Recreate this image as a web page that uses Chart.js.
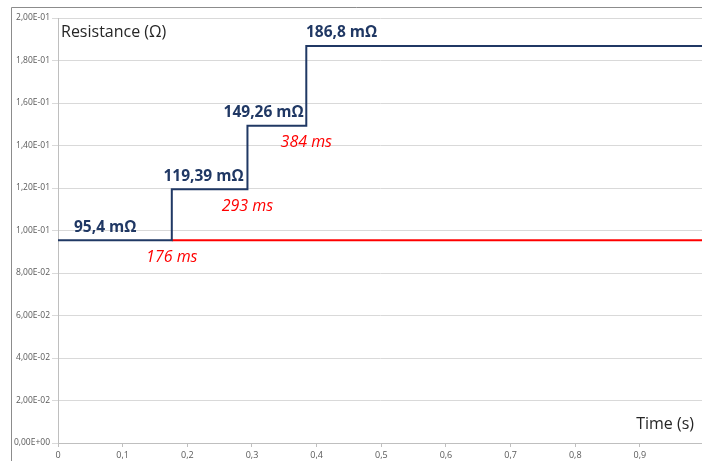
<!DOCTYPE html>
<html>
<head>
<meta charset="utf-8">
<script src="https://cdn.jsdelivr.net/npm/chart.js@4.4.1/dist/chart.umd.min.js"></script>
<style>
    html, body { margin: 0; padding: 0; background: #fff; }
    canvas { display: block; }
</style>
</head>
<body>
<canvas id="resistance-chart" width="702" height="461"></canvas>
<script>
// resistance steps: switch times (s) and levels (ohm)
const stepTimes = [0, 0.176, 0.293, 0.384];
const stepLevels = [0.0954, 0.11939, 0.14926, 0.1868];
const stepLabels = ['95,4 mΩ', '119,39 mΩ', '149,26 mΩ', '186,8 mΩ'];
const timeLabels = ['176 ms', '293 ms', '384 ms'];
const endTime = 0.996;

const yTickLabels = ['0,00E+00', '2,00E-02', '4,00E-02', '6,00E-02', '8,00E-02', '1,00E-01',
    '1,20E-01', '1,40E-01', '1,60E-01', '1,80E-01', '2,00E-01'];
const xTickLabels = ['0', '0,1', '0,2', '0,3', '0,4', '0,5', '0,6', '0,7', '0,8', '0,9'];

const navy = '#203864';
const red = '#ff0000';
const font = '"Open Sans", "DejaVu Sans", sans-serif';

// blue trace: one point per level change, drawn as a step line
const stepData = stepLevels.map((v, i) => ({ x: stepTimes[i], y: v }));
stepData.push({ x: endTime, y: stepLevels[stepLevels.length - 1] });

// red reference line: first level from the first switch to the end
const baseData = [
    { x: stepTimes[1], y: stepLevels[0] },
    { x: endTime, y: stepLevels[0] },
];

// where each level label sits (x in seconds, how it aligns there)
const labelPlace = [
    { x: 0.073, align: 'center' },
    { x: 0.287, align: 'right' },
    { x: 0.380, align: 'right' },
    { x: 0.3835, align: 'left' },
];

const annotations = {
    id: 'annotations',
    beforeDraw(chart) {
        const { ctx } = chart;
        ctx.save();
        ctx.fillStyle = '#fff';
        ctx.fillRect(0, 0, chart.width, chart.height);
        ctx.strokeStyle = '#8c8c8c';
        ctx.lineWidth = 1;
        ctx.beginPath();
        ctx.moveTo(11.5, chart.height);
        ctx.lineTo(11.5, 7.5);
        ctx.lineTo(chart.width, 7.5);
        ctx.stroke();
        ctx.restore();
    },
    afterDatasetsDraw(chart) {
        const { ctx, scales: { x, y } } = chart;
        ctx.save();
        ctx.textBaseline = 'middle';

        ctx.font = `bold 15.5px ${font}`;
        ctx.fillStyle = navy;
        stepLabels.forEach((text, i) => {
            ctx.textAlign = labelPlace[i].align;
            ctx.fillText(text, x.getPixelForValue(labelPlace[i].x), y.getPixelForValue(stepLevels[i]) - 13);
        });

        ctx.font = `italic 16px ${font}`;
        ctx.fillStyle = red;
        ctx.textAlign = 'center';
        timeLabels.forEach((text, i) => {
            ctx.fillText(text, x.getPixelForValue(stepTimes[i + 1]), y.getPixelForValue(stepLevels[i]) + 17);
        });

        ctx.font = `16px ${font}`;
        ctx.fillStyle = '#262626';
        ctx.textAlign = 'left';
        ctx.fillText('Resistance (Ω)', 61, 32);
        ctx.textAlign = 'right';
        ctx.fillText('Time (s)', 694, 424);
        ctx.restore();
    }
};

new Chart(document.getElementById('resistance-chart').getContext('2d'), {
    type: 'line',
    data: {
        datasets: [{
            data: stepData,
            borderColor: navy,
            borderWidth: 2,
            stepped: 'before',
            pointRadius: 0,
            fill: false,
        }, {
            data: baseData,
            borderColor: red,
            borderWidth: 2,
            pointRadius: 0,
            fill: false,
        }]
    },
    options: {
        responsive: false,
        devicePixelRatio: 1,
        animation: false,
        layout: {
            padding: { top: 18, right: 0, left: 0, bottom: 0 }
        },
        plugins: {
            legend: { display: false },
            title: { display: false },
            tooltip: { enabled: false },
        },
        scales: {
            x: {
                type: 'linear',
                min: 0,
                max: endTime,
                afterFit: (scale) => { scale.height = 18; },
                border: { color: '#bfbfbf' },
                grid: {
                    drawOnChartArea: false,
                    color: '#bfbfbf',
                    tickLength: 4,
                },
                ticks: {
                    stepSize: 0.1,
                    padding: 3,
                    color: '#595959',
                    font: { family: font, size: 9 },
                    callback: (value, index) => xTickLabels[index],
                },
            },
            y: {
                min: 0,
                max: 0.2,
                afterFit: (scale) => { scale.width = 58; },
                border: { color: '#bfbfbf' },
                grid: {
                    color: '#d9d9d9',
                    tickLength: 6,
                },
                ticks: {
                    stepSize: 0.02,
                    padding: 2,
                    color: '#595959',
                    font: { family: font, size: 8.5 },
                    callback: (value, index) => yTickLabels[index],
                },
            },
        }
    },
    plugins: [annotations]
});
</script>
</body>
</html>
